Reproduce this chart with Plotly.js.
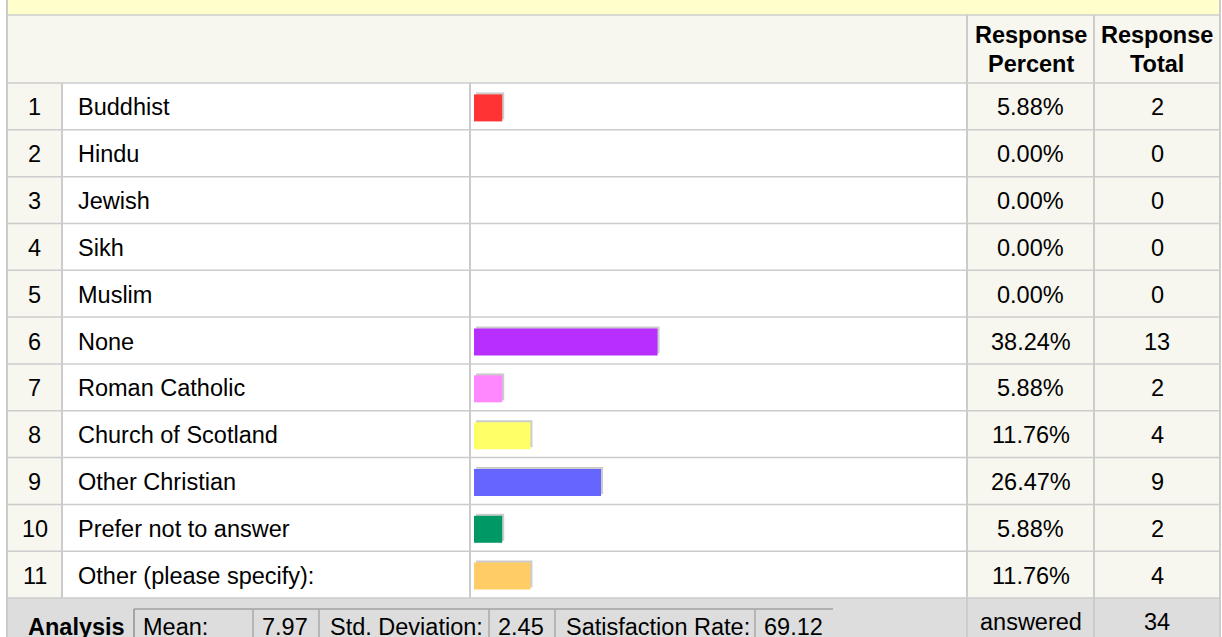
<!DOCTYPE html>
<html>
<head>
<meta charset="utf-8">
<script src="https://cdn.plot.ly/plotly-3.0.1.min.js"></script>
<style>html,body{margin:0;padding:0;background:#fff;}#chart{width:1222px;height:637px;}</style>
</head>
<body>
<div id="chart"></div>
<script>
// ---- data ----
const categories = ["Buddhist","Hindu","Jewish","Sikh","Muslim","None","Roman Catholic","Church of Scotland","Other Christian","Prefer not to answer","Other (please specify):"];
const responsePercent = [5.88,0.00,0.00,0.00,0.00,38.24,5.88,11.76,26.47,5.88,11.76];
const responseTotal = [2,0,0,0,0,13,2,4,9,2,4];
const headerLine1 = ["Response","Response"];
const headerLine2 = ["Percent","Total"];
const analysisLabels = ["Mean:","Std. Deviation:","Satisfaction Rate:"];
const analysisValues = ["7.97","2.45","69.12"];
const answeredCount = 34;

// ---- styles ----
const barColors = ["#FF3333","#FF3333","#FF3333","#FF3333","#FF3333","#B72EFF","#FF88FF","#FFFF66","#6666FF","#009966","#FFCC66"];
const FONT = "Arial, 'Liberation Sans', Helvetica, sans-serif";
const FS = 23.5;
const W = 1222, H = 637;
const X = p => p / W;
const Y = p => 1 - p / H;
const GRID = "#CCCCCC";
const BEIGE = "#F7F7EF";

// table geometry (pixels)
const colL = 7, colNum = 62, colLabel = 470, colPct = 967, colTot = 1094, colR = 1220;
const headTop = 15, rowsTop = 83, rowH = 46.82;
const nRows = categories.length;
const rowsBottom = rowsTop + nRows * rowH;
const rowTop = i => rowsTop + i * rowH;
const rowMid = i => rowsTop + (i + 0.5) * rowH + 1;

// bar scale: px = 474 + 4.8 * pct ; bar centre slightly below row centre
const x0px = 474, kx = 4.8;
const xr = off => [-(x0px + off) / kx, (W - x0px - off) / kx];
const yc = 84.5;
const yr = off => [0.5 + (H - (yc + off)) / rowH, 0.5 - (yc + off) / rowH];
const barW = 27 / rowH;

const shapes = [];
function rect(x0, x1, y0, y1, fill) {
  shapes.push({type: "rect", xref: "paper", yref: "paper", x0: X(x0), x1: X(x1), y0: Y(y1), y1: Y(y0),
    fillcolor: fill, line: {width: 0}, layer: "below"});
}
function line(x0, y0, x1, y1, color, w) {
  shapes.push({type: "line", xref: "paper", yref: "paper", x0: X(x0), x1: X(x1), y0: Y(y0), y1: Y(y1),
    line: {color: color, width: w}, layer: "below"});
}
// backgrounds
rect(colL, colR, 0, headTop, "#FFFFCC");
rect(colL, colR, headTop, rowsTop, BEIGE);
for (let i = 0; i < nRows; i++) {
  rect(colL, colNum, rowTop(i), rowTop(i + 1), BEIGE);
  rect(colPct, colR, rowTop(i), rowTop(i + 1), BEIGE);
}
rect(colL, colR, rowsBottom, H, "#DDDDDD");
// horizontal grid
line(colL, headTop, colR, headTop, GRID, 1.5);
for (let i = 0; i <= nRows; i++) line(colL, rowTop(i), colR, rowTop(i), GRID, 1.5);
// vertical grid
line(colL, 0, colL, H, GRID, 2);
line(colR, 0, colR, H, GRID, 2);
line(colPct, headTop, colPct, H, GRID, 2);
line(colTot, headTop, colTot, H, GRID, 2);
line(colNum, rowsTop, colNum, rowsBottom, GRID, 2);
line(colLabel, rowsTop, colLabel, rowsBottom, GRID, 2);
// analysis box
const boxTop = 609;
const boxEdges = [134, 253, 319, 489, 555, 755];
line(134, boxTop, 833, boxTop, "#A0A0A0", 1.5);
boxEdges.forEach((e, j) => line(e, boxTop, e, H, j === 0 ? "#909090" : "#A8A8A8", 1.5));

// annotations
const ann = [];
function txt(text, xpx, ypx, anchor, bold) {
  ann.push({text: bold ? "<b>" + text + "</b>" : text, xref: "paper", yref: "paper",
    x: X(xpx), y: Y(ypx), xanchor: anchor, yanchor: "middle", showarrow: false, borderpad: 0,
    font: {family: FONT, size: FS, color: "#000"}});
}
const hdrX = [(colPct + colTot) / 2, (colTot + colR) / 2];
headerLine1.forEach((h, j) => txt(h, hdrX[j], 35, "center", true));
headerLine2.forEach((h, j) => txt(h, hdrX[j], 64, "center", true));
categories.forEach((c, i) => {
  const ym = rowMid(i);
  txt(String(i + 1), (colL + colNum) / 2, ym, "center", false);
  txt(c, 77, ym, "left", false);
  txt(responsePercent[i].toFixed(2) + "%", (colPct + colTot) / 2, ym, "center", false);
  txt(String(responseTotal[i]), (colTot + colR) / 2, ym, "center", false);
});
const footY = 627;
txt("Analysis", 27, footY, "left", true);
const labelX = [142, 329, 565];
const valueX = [261, 497, 763];
analysisLabels.forEach((l, j) => {
  txt(l, labelX[j], footY, "left", false);
  txt(analysisValues[j], valueX[j], footY, "left", false);
});
txt("answered", (colPct + colTot) / 2, 622, "center", false);
txt(String(answeredCount), (colTot + colR) / 2, 622, "center", false);

const rowIdx = categories.map((c, i) => i + 1);
const traces = [
  {type: "bar", orientation: "h", x: responsePercent, y: rowIdx, width: barW,
    marker: {color: "#CCCCCC", line: {width: 0}}, xaxis: "x", yaxis: "y", hoverinfo: "skip"},
  {type: "bar", orientation: "h", x: responsePercent, y: rowIdx, width: barW,
    marker: {color: barColors, line: {width: 0}}, xaxis: "x2", yaxis: "y2", hoverinfo: "skip"}
];
const ax = {showgrid: false, zeroline: false, showticklabels: false, showline: false, ticks: "", fixedrange: true};
const layout = {
  width: W, height: H, margin: {l: 0, r: 0, t: 0, b: 0, pad: 0},
  paper_bgcolor: "#FFFFFF", plot_bgcolor: "rgba(0,0,0,0)",
  showlegend: false, barmode: "overlay", hovermode: false,
  xaxis: Object.assign({}, ax, {range: xr(2), domain: [0, 1]}),
  yaxis: Object.assign({}, ax, {range: yr(-2), domain: [0, 1]}),
  xaxis2: Object.assign({}, ax, {range: xr(0), overlaying: "x"}),
  yaxis2: Object.assign({}, ax, {range: yr(0), overlaying: "y"}),
  shapes: shapes, annotations: ann
};
Plotly.newPlot("chart", traces, layout, {staticPlot: true, displayModeBar: false});
</script>
</body>
</html>
